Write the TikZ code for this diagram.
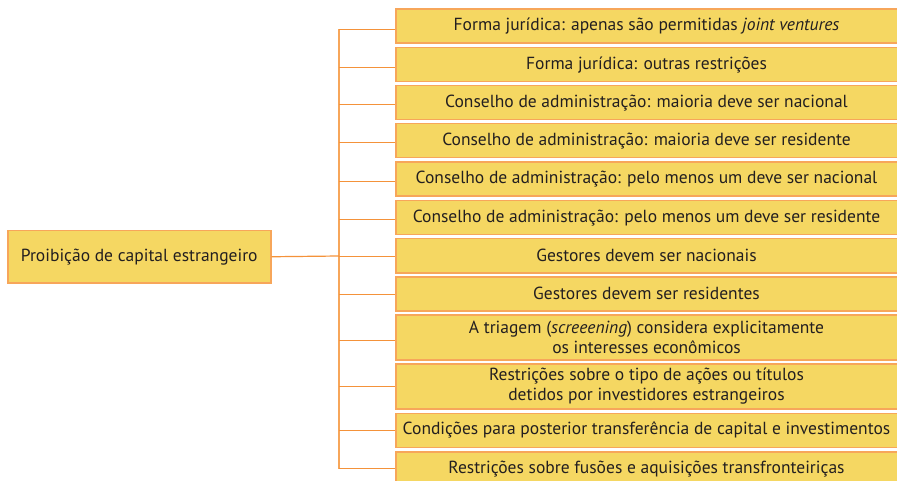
\documentclass[tikz,border=0pt]{standalone}
\usepackage{fontspec}
\setmainfont{PT Sans}
\usepackage{tikz}

\definecolor{caixa}{RGB}{245,215,98}
\definecolor{borda}{RGB}{247,166,90}
\definecolor{ramo}{RGB}{244,146,58}
\definecolor{texto}{RGB}{35,31,32}

\tikzset{
  folha/.style={draw=borda, fill=caixa, line width=1.5pt, anchor=north west,
    minimum width=501.5pt, inner sep=0pt, align=center, text=texto,
    font=\fontsize{17.5}{19.5}\selectfont},
  raizbox/.style={draw=borda, fill=caixa, line width=1.5pt, anchor=north west,
    minimum width=263pt, minimum height=52pt, inner sep=0pt, text=texto,
    font=\fontsize{17.5}{19.5}\selectfont},
  ramo/.style={draw=ramo, line width=1.2pt},
}

\begin{document}
\begin{tikzpicture}[x=1pt, y=-1pt]
\useasboundingbox (0,0) rectangle (897,481);
\node[raizbox] (raiz) at (7,230) {Proibição de capital estrangeiro};
\node[folha, minimum height=34pt] (f1) at (395,8.5) {Forma jurídica: apenas são permitidas \textit{joint ventures}};
\node[folha, minimum height=34pt] (f2) at (395,47) {Forma jurídica: outras restrições};
\node[folha, minimum height=34pt] (f3) at (395,85) {Conselho de administração: maioria deve ser nacional};
\node[folha, minimum height=34pt] (f4) at (395,123) {Conselho de administração: maioria deve ser residente};
\node[folha, minimum height=34pt] (f5) at (395,161.5) {Conselho de administração: pelo menos um deve ser nacional};
\node[folha, minimum height=34pt] (f6) at (395,200) {Conselho de administração: pelo menos um deve ser residente};
\node[folha, minimum height=34pt] (f7) at (395,238) {Gestores devem ser nacionais};
\node[folha, minimum height=34pt] (f8) at (395,276) {Gestores devem ser residentes};
\node[folha, minimum height=45pt] (f9) at (395,314) {A triagem (\textit{screeening}) considera explicitamente\\os interesses econômicos};
\node[folha, minimum height=45pt] (f10) at (395,363) {Restrições sobre o tipo de ações ou títulos\\detidos por investidores estrangeiros};
\node[folha, minimum height=34pt] (f11) at (395,412.5) {Condições para posterior transferência de capital e investimentos};
\node[folha, minimum height=34pt] (f12) at (395,451) {Restrições sobre fusões e aquisições transfronteiriças};

% tronco vertical
\coordinate (tronco) at (339,256);
\draw[ramo, draw=borda] ([yshift=-3pt]tronco |- f1.west) -- (tronco |- f12.west);
\draw[ramo] (raiz.east) -- (tronco);
\draw[ramo] ([yshift=-3pt]tronco |- f1.west) -- ([yshift=-3pt]f1.west);
\draw[ramo] ([yshift=-2.5pt]tronco |- f2.west) -- ([yshift=-2.5pt]f2.west);
\draw[ramo] ([yshift=-2pt]tronco |- f3.west) -- ([yshift=-2pt]f3.west);
\draw[ramo] ([yshift=-2pt]tronco |- f4.west) -- ([yshift=-2pt]f4.west);
\draw[ramo] ([yshift=-2pt]tronco |- f5.west) -- ([yshift=-2pt]f5.west);
\draw[ramo] ([yshift=-1.5pt]tronco |- f6.west) -- ([yshift=-1.5pt]f6.west);
\draw[ramo] ([yshift=-1pt]tronco |- f7.west) -- ([yshift=-1pt]f7.west);
\draw[ramo] ([yshift=-1pt]tronco |- f8.west) -- ([yshift=-1pt]f8.west);
\draw[ramo] ([yshift=-3pt]tronco |- f9.west) -- ([yshift=-3pt]f9.west);
\draw[ramo] ([yshift=-0.5pt]tronco |- f10.west) -- ([yshift=-0.5pt]f10.west);
\draw[ramo] (tronco |- f11.west) -- (f11.west);
\draw[ramo] (tronco |- f12.west) -- (f12.west);
\end{tikzpicture}
\end{document}
